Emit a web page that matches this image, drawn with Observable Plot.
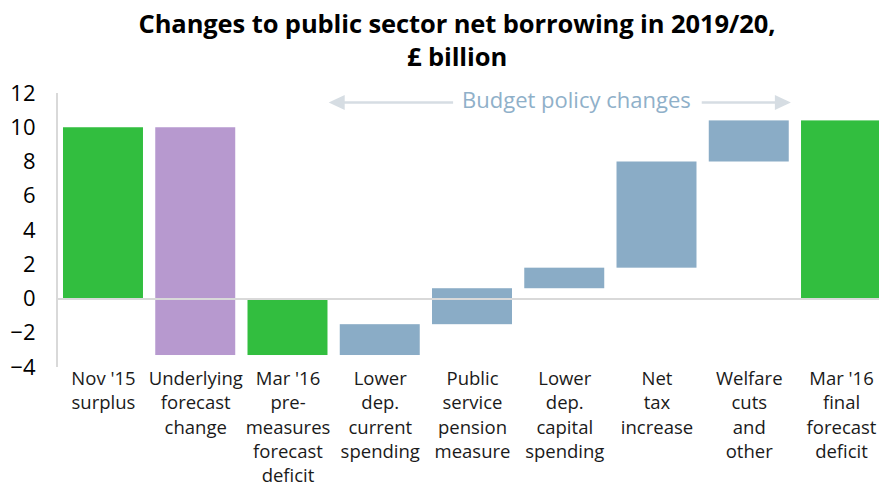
<!DOCTYPE html>
<html><head><meta charset="utf-8">
<script src="https://cdn.jsdelivr.net/npm/d3@7"></script>
<script src="https://cdn.jsdelivr.net/npm/@observablehq/plot@0.6"></script>
<style>
body{margin:0;background:#fff;font-family:"Open Sans",sans-serif;}
#title{width:879px;height:75px;box-sizing:border-box;padding-top:7px;padding-left:35px;text-align:center;font-weight:700;font-size:25.5px;line-height:33px;color:#000;letter-spacing:-0.1px;}
#chart svg{overflow:visible;display:block;}
</style></head><body>
<div id="title">Changes to public sector net borrowing in 2019/20,<br>£ billion</div>
<div id="chart"></div>
<script>
// Data
const categories = ["Nov '15 surplus","Underlying forecast change","Mar '16 pre-measures forecast deficit","Lower dep. current spending","Public service pension measure","Lower dep. capital spending","Net tax increase","Welfare cuts and other","Mar '16 final forecast deficit"];
const tickLabels = ["Nov '15\nsurplus","Underlying\nforecast\nchange","Mar '16\npre-\nmeasures\nforecast\ndeficit","Lower\ndep.\ncurrent\nspending","Public\nservice\npension\nmeasure","Lower\ndep.\ncapital\nspending","Net\ntax\nincrease","Welfare\ncuts\nand\nother","Mar '16\nfinal\nforecast\ndeficit"];
const barBottom = [0, -3.3, -3.3, -3.3, -1.5, 0.6, 1.8, 8.0, 0];
const barTop = [10.0, 10.0, 0, -1.5, 0.6, 1.8, 8.0, 10.4, 10.4];
const kinds = ["Total","Underlying","Total","Policy","Policy","Policy","Policy","Policy","Total"];
const kindNames = ["Total","Underlying","Policy"];
const kindColors = ["#32be3f","#b799cf","#8aacc6"];
const yTicks = [-4,-2,0,2,4,6,8,10,12];
const annotationText = "Budget policy changes";
const annotationFrom = "Lower dep. current spending";
const annotationTo = "Mar '16 final forecast deficit";
const annotationY = 11.45;

const rows = categories.map((c,i)=>({category:c,label:tickLabels[i],y1:barBottom[i],y2:barTop[i],kind:kinds[i]}));

const plot = Plot.plot({
  width: 879, height: 411,
  marginTop: 18, marginBottom: 119, marginLeft: 57, marginRight: -8,
  style: {fontFamily:"Open Sans", fontSize:"22px", color:"#000", background:"#fff", overflow:"visible"},
  x: {domain: categories, paddingInner: 0.133, paddingOuter: 0.065, align: 0.5, round: false, axis: null},
  y: {domain: [-4, 12], ticks: yTicks, tickSize: 0, tickPadding: 22, label: null, grid: false},
  color: {domain: kindNames, range: kindColors},
  marks: [
    Plot.barY(rows, {x: "category", y1: "y1", y2: "y2", fill: "kind"}),
    Plot.ruleY([0], {stroke: "#d9d9d9", strokeWidth: 2}),
    Plot.text(rows, {x: "category", text: "label", frameAnchor: "bottom", lineAnchor: "top", dy: 0.5, fontSize: 18.5, lineHeight: 1.31, fill: "#1a1a1a"})
  ]
});
document.getElementById("chart").appendChild(plot);

// annotation + y-axis line using the plot's own scales
const svg = d3.select(plot.tagName.toLowerCase() === "svg" ? plot : plot.querySelector("svg"));
const xs = plot.scale("x"), ys = plot.scale("y");
const xb = d3.scaleBand(xs.domain, xs.range).paddingInner(xs.paddingInner).paddingOuter(xs.paddingOuter).align(xs.align ?? 0.5);
const yl = d3.scaleLinear(ys.domain, ys.range);
const step = xb.step();
const g = svg.append("g");
g.append("line").attr("x1", 57).attr("x2", 57).attr("y1", yl(12)).attr("y2", yl(-4)).attr("stroke", "#d9d9d9").attr("stroke-width", 2);
const ay = yl(annotationY);
const xL = xb(annotationFrom) - 0.12 * step;
const xR = xb(annotationTo) - 0.11 * step;
const xc = xL + 0.536 * (xR - xL);
const t = g.append("text").attr("x", xc).attr("y", ay).attr("text-anchor", "middle").attr("dominant-baseline", "middle")
  .attr("font-size", 22).attr("fill", "#8fb0c9").attr("font-family", "Open Sans").text(annotationText);
const bb = t.node().getBBox();
const ac = "#d6dde3", head = 16, hh = 7.5;
g.append("line").attr("x1", xL + head - 1).attr("x2", bb.x - 9).attr("y1", ay).attr("y2", ay).attr("stroke", ac).attr("stroke-width", 2.5);
g.append("line").attr("x1", bb.x + bb.width + 11).attr("x2", xR - head + 1).attr("y1", ay).attr("y2", ay).attr("stroke", ac).attr("stroke-width", 2.5);
g.append("path").attr("d", `M${xL},${ay}L${xL+head},${ay-hh}L${xL+head},${ay+hh}Z`).attr("fill", ac);
g.append("path").attr("d", `M${xR},${ay}L${xR-head},${ay-hh}L${xR-head},${ay+hh}Z`).attr("fill", ac);
</script>
</body></html>
